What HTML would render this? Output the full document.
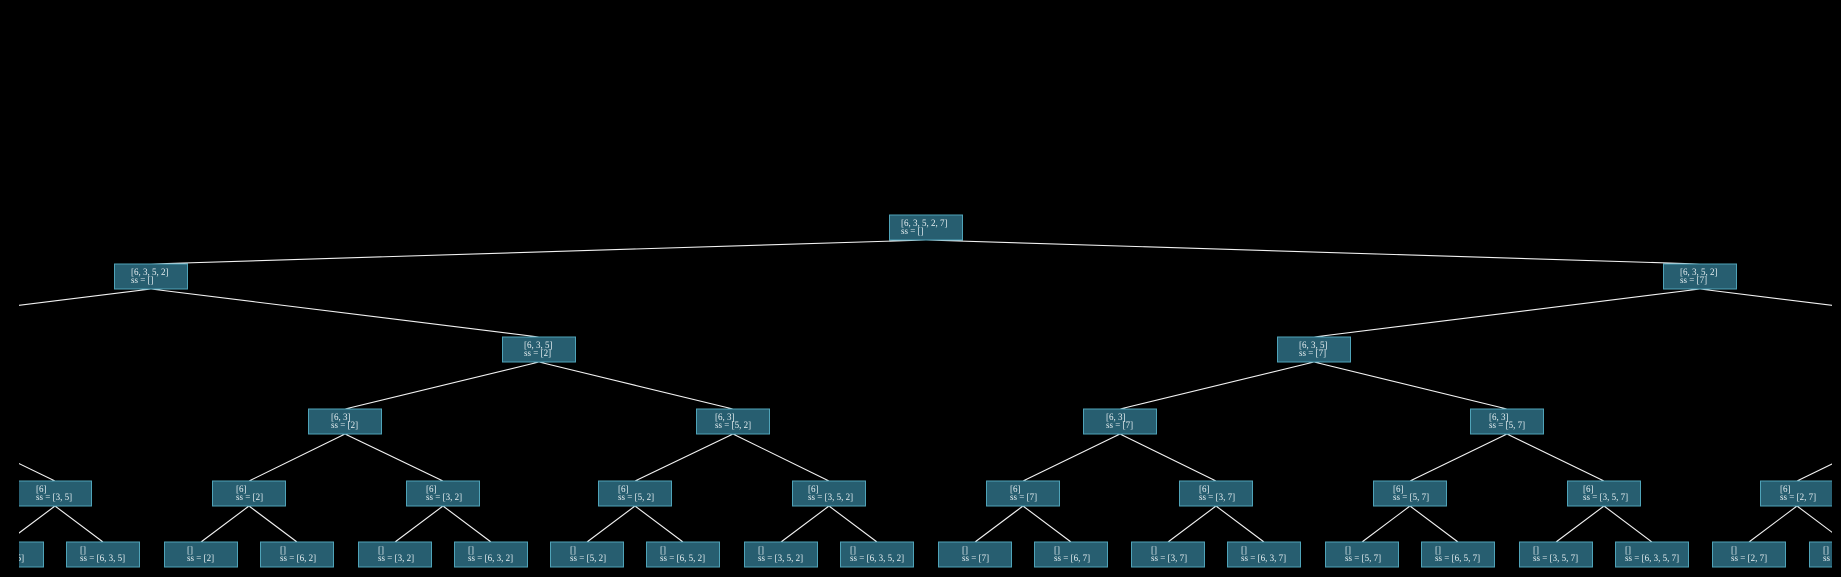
<!DOCTYPE html>
<html><head><style>
html,body{margin:0;padding:0;background:#000;width:1841px;height:577px;overflow:hidden}
svg{display:block}
rect{fill:#275e70;stroke:#4fa3b8;stroke-width:1}
text{font-family:"Liberation Serif",serif;font-size:9px;fill:#e8f0f2}
line{stroke:#f2f2f2;stroke-width:1.1}
</style></head><body>
<svg width="1841" height="577" viewBox="0 0 1841 577">
<defs><clipPath id="c"><rect x="19" y="0" width="1813" height="577" style="fill:#000;stroke:none"/></clipPath></defs>
<g clip-path="url(#c)">
<!-- edges -->
<line x1="926" y1="240" x2="151" y2="264"/>
<line x1="926" y1="240" x2="1700" y2="264"/>
<line x1="151" y1="289" x2="-237" y2="337"/>
<line x1="151" y1="289" x2="539" y2="337"/>
<line x1="1700" y1="289" x2="1314" y2="337"/>
<line x1="1700" y1="289" x2="2088" y2="337"/>
<line x1="539" y1="362" x2="345" y2="409"/>
<line x1="539" y1="362" x2="733" y2="409"/>
<line x1="1314" y1="362" x2="1120" y2="409"/>
<line x1="1314" y1="362" x2="1507" y2="409"/>
<line x1="-42" y1="434" x2="55" y2="481"/>
<line x1="345" y1="434" x2="249" y2="481"/>
<line x1="345" y1="434" x2="443" y2="481"/>
<line x1="733" y1="434" x2="635" y2="481"/>
<line x1="733" y1="434" x2="829" y2="481"/>
<line x1="1120" y1="434" x2="1023" y2="481"/>
<line x1="1120" y1="434" x2="1216" y2="481"/>
<line x1="1507" y1="434" x2="1410" y2="481"/>
<line x1="1507" y1="434" x2="1604" y2="481"/>
<line x1="1894" y1="434" x2="1797" y2="481"/>
<line x1="55" y1="506" x2="7" y2="542"/><line x1="55" y1="506" x2="103" y2="542"/>
<line x1="249" y1="506" x2="201" y2="542"/><line x1="249" y1="506" x2="297" y2="542"/>
<line x1="443" y1="506" x2="395" y2="542"/><line x1="443" y1="506" x2="491" y2="542"/>
<line x1="635" y1="506" x2="587" y2="542"/><line x1="635" y1="506" x2="683" y2="542"/>
<line x1="829" y1="506" x2="781" y2="542"/><line x1="829" y1="506" x2="877" y2="542"/>
<line x1="1023" y1="506" x2="975" y2="542"/><line x1="1023" y1="506" x2="1071" y2="542"/>
<line x1="1216" y1="506" x2="1168" y2="542"/><line x1="1216" y1="506" x2="1264" y2="542"/>
<line x1="1410" y1="506" x2="1362" y2="542"/><line x1="1410" y1="506" x2="1458" y2="542"/>
<line x1="1604" y1="506" x2="1556" y2="542"/><line x1="1604" y1="506" x2="1652" y2="542"/>
<line x1="1797" y1="506" x2="1749" y2="542"/><line x1="1797" y1="506" x2="1845" y2="542"/>

<!-- root -->
<rect x="889.5" y="215" width="73" height="25"/><text x="901" y="226">[6, 3, 5, 2, 7]</text><text x="901" y="234">ss = []</text>
<!-- L1 -->
<rect x="114.5" y="264" width="73" height="25"/><text x="131" y="275">[6, 3, 5, 2]</text><text x="131" y="283">ss = []</text>
<rect x="1663.5" y="264" width="73" height="25"/><text x="1680" y="275">[6, 3, 5, 2]</text><text x="1680" y="283">ss = [7]</text>
<!-- L2 -->
<rect x="502.5" y="337" width="73" height="25"/><text x="524" y="348">[6, 3, 5]</text><text x="524" y="356">ss = [2]</text>
<rect x="1277.5" y="337" width="73" height="25"/><text x="1299" y="348">[6, 3, 5]</text><text x="1299" y="356">ss = [7]</text>
<!-- L3 -->
<rect x="308.5" y="409" width="73" height="25"/><text x="331" y="420">[6, 3]</text><text x="331" y="428">ss = [2]</text>
<rect x="696.5" y="409" width="73" height="25"/><text x="715" y="420">[6, 3]</text><text x="715" y="428">ss = [5, 2]</text>
<rect x="1083.5" y="409" width="73" height="25"/><text x="1106" y="420">[6, 3]</text><text x="1106" y="428">ss = [7]</text>
<rect x="1470.5" y="409" width="73" height="25"/><text x="1489" y="420">[6, 3]</text><text x="1489" y="428">ss = [5, 7]</text>
<!-- L4 -->
<rect x="18.5" y="481" width="73" height="25"/><text x="36" y="492">[6]</text><text x="36" y="500">ss = [3, 5]</text>
<rect x="212.5" y="481" width="73" height="25"/><text x="236" y="492">[6]</text><text x="236" y="500">ss = [2]</text>
<rect x="406.5" y="481" width="73" height="25"/><text x="426" y="492">[6]</text><text x="426" y="500">ss = [3, 2]</text>
<rect x="598.5" y="481" width="73" height="25"/><text x="618" y="492">[6]</text><text x="618" y="500">ss = [5, 2]</text>
<rect x="792.5" y="481" width="73" height="25"/><text x="808" y="492">[6]</text><text x="808" y="500">ss = [3, 5, 2]</text>
<rect x="986.5" y="481" width="73" height="25"/><text x="1010" y="492">[6]</text><text x="1010" y="500">ss = [7]</text>
<rect x="1179.5" y="481" width="73" height="25"/><text x="1199" y="492">[6]</text><text x="1199" y="500">ss = [3, 7]</text>
<rect x="1373.5" y="481" width="73" height="25"/><text x="1393" y="492">[6]</text><text x="1393" y="500">ss = [5, 7]</text>
<rect x="1567.5" y="481" width="73" height="25"/><text x="1583" y="492">[6]</text><text x="1583" y="500">ss = [3, 5, 7]</text>
<rect x="1760.5" y="481" width="73" height="25"/><text x="1780" y="492">[6]</text><text x="1780" y="500">ss = [2, 7]</text>
<!-- L5 -->
<rect x="-29.5" y="542" width="73" height="25"/><text x="-12" y="553">[]</text><text x="-12" y="561">ss = [3, 5]</text>
<rect x="66.5" y="542" width="73" height="25"/><text x="80" y="553">[]</text><text x="80" y="561">ss = [6, 3, 5]</text>
<rect x="164.5" y="542" width="73" height="25"/><text x="187" y="553">[]</text><text x="187" y="561">ss = [2]</text>
<rect x="260.5" y="542" width="73" height="25"/><text x="280" y="553">[]</text><text x="280" y="561">ss = [6, 2]</text>
<rect x="358.5" y="542" width="73" height="25"/><text x="378" y="553">[]</text><text x="378" y="561">ss = [3, 2]</text>
<rect x="454.5" y="542" width="73" height="25"/><text x="468" y="553">[]</text><text x="468" y="561">ss = [6, 3, 2]</text>
<rect x="550.5" y="542" width="73" height="25"/><text x="570" y="553">[]</text><text x="570" y="561">ss = [5, 2]</text>
<rect x="646.5" y="542" width="73" height="25"/><text x="660" y="553">[]</text><text x="660" y="561">ss = [6, 5, 2]</text>
<rect x="744.5" y="542" width="73" height="25"/><text x="758" y="553">[]</text><text x="758" y="561">ss = [3, 5, 2]</text>
<rect x="840.5" y="542" width="73" height="25"/><text x="850" y="553">[]</text><text x="850" y="561">ss = [6, 3, 5, 2]</text>
<rect x="938.5" y="542" width="73" height="25"/><text x="962" y="553">[]</text><text x="962" y="561">ss = [7]</text>
<rect x="1034.5" y="542" width="73" height="25"/><text x="1054" y="553">[]</text><text x="1054" y="561">ss = [6, 7]</text>
<rect x="1131.5" y="542" width="73" height="25"/><text x="1151" y="553">[]</text><text x="1151" y="561">ss = [3, 7]</text>
<rect x="1227.5" y="542" width="73" height="25"/><text x="1241" y="553">[]</text><text x="1241" y="561">ss = [6, 3, 7]</text>
<rect x="1325.5" y="542" width="73" height="25"/><text x="1345" y="553">[]</text><text x="1345" y="561">ss = [5, 7]</text>
<rect x="1421.5" y="542" width="73" height="25"/><text x="1435" y="553">[]</text><text x="1435" y="561">ss = [6, 5, 7]</text>
<rect x="1519.5" y="542" width="73" height="25"/><text x="1533" y="553">[]</text><text x="1533" y="561">ss = [3, 5, 7]</text>
<rect x="1615.5" y="542" width="73" height="25"/><text x="1625" y="553">[]</text><text x="1625" y="561">ss = [6, 3, 5, 7]</text>
<rect x="1712.5" y="542" width="73" height="25"/><text x="1731" y="553">[]</text><text x="1731" y="561">ss = [2, 7]</text>
<rect x="1809.5" y="542" width="73" height="25"/><text x="1823" y="553">[]</text><text x="1823" y="561">ss = [6, 2, 7]</text>
</g>
</svg>
</body></html>
